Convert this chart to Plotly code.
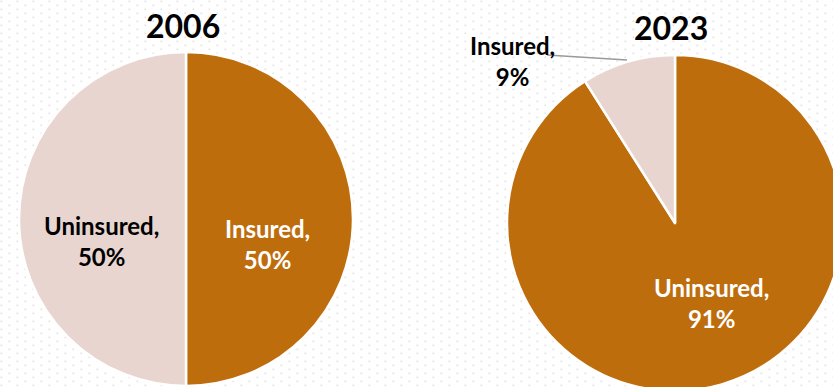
import base64
import plotly.graph_objects as go

# ---- data ----
years = ["2006", "2023"]
labels_2006 = ["Insured", "Uninsured"]
values_2006 = [50, 50]
labels_2023 = ["Uninsured", "Insured"]
values_2023 = [91, 9]

DARK = "#BE6D0D"
LIGHT = "#E9D5CF"
FONT = "Lato"

W, H = 845, 392


def px(x):
    return x / W


def py(y):
    return 1 - y / H


fig = go.Figure()

fig.add_trace(go.Pie(
    labels=labels_2006, values=values_2006, sort=False, direction="clockwise",
    marker=dict(colors=[DARK, LIGHT], line=dict(color="white", width=2.5)),
    textinfo="none", hoverinfo="none", showlegend=False,
    domain=dict(x=[px(19), px(353)], y=[py(386), py(52)]),
))
fig.add_trace(go.Pie(
    labels=labels_2023, values=values_2023, sort=False, direction="clockwise",
    marker=dict(colors=[DARK, LIGHT], line=dict(color="white", width=2.5)),
    textinfo="none", hoverinfo="none", showlegend=False,
    domain=dict(x=[px(507), px(843)], y=[py(391), py(55)]),
))


def lab(name, val):
    return f"{name},<br>{val}%"


ann = [
    dict(text=f"<b>{years[0]}</b>", x=px(183), y=py(25), size=32, color="black"),
    dict(text=f"<b>{years[1]}</b>", x=px(671), y=py(28), size=32, color="black"),
    dict(text="<b>" + lab(labels_2006[1], values_2006[1]) + "</b>", x=px(101), y=py(241), size=24, color="black"),
    dict(text="<b>" + lab(labels_2006[0], values_2006[0]) + "</b>", x=px(267), y=py(244), size=24, color="white"),
    dict(text="<b>" + lab(labels_2023[0], values_2023[0]) + "</b>", x=px(711), y=py(303), size=24, color="white"),
    dict(text="<b>" + lab(labels_2023[1], values_2023[1]) + "</b>", x=px(512), y=py(61), size=24, color="black"),
]
fig.update_layout(annotations=[
    dict(text=a["text"], x=a["x"], y=a["y"], xref="paper", yref="paper",
         xanchor="center", yanchor="middle", showarrow=False, align="center",
         font=dict(family=FONT, size=a["size"], color=a["color"]))
    for a in ann
])

fig.add_shape(type="line", xref="paper", yref="paper",
              x0=px(547), y0=py(55), x1=px(627), y1=py(60),
              line=dict(color="#9a9a9a", width=1.5))

svg = (f"<svg xmlns='http://www.w3.org/2000/svg' width='{W}' height='{H}'>"
       "<defs><pattern id='p' width='16' height='8' patternUnits='userSpaceOnUse'>"
       "<rect x='0.5' y='0.5' width='1.6' height='1.6' fill='#e2e2e2'/>"
       "<rect x='8.5' y='4.5' width='1.6' height='1.6' fill='#e2e2e2'/>"
       "</pattern></defs><rect width='100%' height='100%' fill='url(#p)'/></svg>")
src = "data:image/svg+xml;base64," + base64.b64encode(svg.encode()).decode()
fig.add_layout_image(dict(source=src, xref="paper", yref="paper", x=0, y=1,
                          sizex=1, sizey=1, sizing="stretch", layer="below",
                          xanchor="left", yanchor="top"))

fig.update_layout(width=W, height=H, margin=dict(l=0, r=0, t=0, b=0),
                  paper_bgcolor="white", plot_bgcolor="white")

fig.write_html("out.html", config={"displayModeBar": False},
               post_script="document.body.style.margin='0';document.body.style.overflow='hidden';document.documentElement.style.overflow='hidden';")
